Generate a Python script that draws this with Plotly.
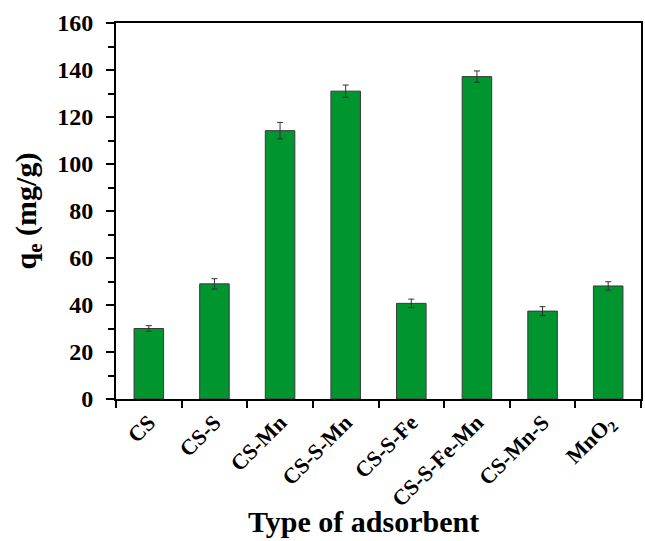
import plotly.graph_objects as go

# Adsorption capacity for each adsorbent
adsorbents = ["CS", "CS-S", "CS-Mn", "CS-S-Mn", "CS-S-Fe", "CS-S-Fe-Mn", "CS-Mn-S", "MnO<sub>2</sub>"]
qe_values = [30.0, 49.0, 114.2, 131.0, 40.7, 137.2, 37.4, 48.1]
qe_errors = [1.2, 2.2, 3.5, 2.6, 1.8, 2.4, 1.9, 1.8]
y_ticks = [0, 20, 40, 60, 80, 100, 120, 140, 160]

FONT = "Liberation Serif"

fig = go.Figure()
fig.add_trace(go.Bar(
    x=adsorbents,
    y=qe_values,
    width=0.45,
    marker=dict(color="#00952f", line=dict(color="#3a3a3a", width=1)),
    error_y=dict(type="data", array=qe_errors, visible=True,
                 color="#333333", thickness=1, width=3),
))

fig.update_layout(
    width=645, height=541,
    margin=dict(l=116, r=2, t=23, b=142),
    plot_bgcolor="white", paper_bgcolor="white",
    showlegend=False,
    font=dict(family=FONT, color="black"),
    annotations=[dict(
        text="<b>Type of adsorbent</b>",
        xref="paper", yref="paper", x=0.472, y=0, yshift=-122,
        xanchor="center", yanchor="middle", showarrow=False,
        font=dict(family=FONT, size=30, color="black"),
    )],
)

fig.update_xaxes(
    showline=True, linecolor="black", linewidth=2, mirror=True,
    ticks="outside", tickson="boundaries", ticklen=7, tickwidth=2, tickcolor="black",
    tickangle=-45,
    tickfont=dict(family=FONT, size=22, color="black", weight="bold"),
    showgrid=False,
)

fig.update_yaxes(
    range=[0, 160],
    tickvals=y_ticks,
    showline=True, linecolor="black", linewidth=2, mirror=True,
    ticks="outside", ticklen=8, tickwidth=2, tickcolor="black",
    ticklabelstandoff=8,
    minor=dict(dtick=10, ticks="outside", ticklen=6, tickwidth=2, tickcolor="black"),
    tickfont=dict(family=FONT, size=24, color="black", weight="bold"),
    title=dict(text="<b>q<sub>e</sub> (mg/g)</b>", font=dict(family=FONT, size=30), standoff=12),
    showgrid=False, zeroline=False,
)

fig.write_html("out.html")
